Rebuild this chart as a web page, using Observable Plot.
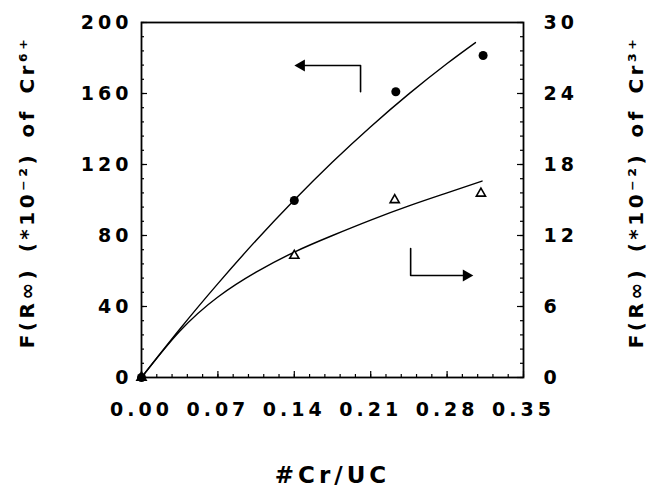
<!DOCTYPE html>
<html><head><meta charset="utf-8">
<script src="https://cdn.jsdelivr.net/npm/d3@7"></script>
<script src="https://cdn.jsdelivr.net/npm/@observablehq/plot@0.6"></script>
<style>
html,body{margin:0;padding:0;background:#fff;}
#chart svg text{font-family:"DejaVu Sans",sans-serif;font-weight:bold;letter-spacing:4px;}
#chart svg text[transform*="rotate"]{letter-spacing:3.5px;word-spacing:4px;}
</style></head><body><div id="chart"></div>
<script>
// tick labels
const xTicks = [0, 0.07, 0.14, 0.21, 0.28, 0.35];
const leftTicks = [0, 40, 80, 120, 160, 200];
const rightTicks = [0, 6, 12, 18, 24, 30];
// measured points
const cr6X = [0, 0.14, 0.233, 0.313];
const cr6Y = [0, 99.7, 161, 181.4];
const cr3X = [0, 0.14, 0.232, 0.311];
const cr3Y = [0, 10.3, 15.0, 15.55];
// fitted curves
const fit6X = [0, 0.035, 0.07, 0.105, 0.14, 0.175, 0.21, 0.245, 0.28, 0.306];
const fit6Y = [0, 27.2, 52.9, 77.2, 100, 121.4, 141.3, 159.8, 176.9, 188.7];
const fit3X = [0, 0.035, 0.07, 0.105, 0.14, 0.175, 0.21, 0.245, 0.28, 0.312];
const fit3Y = [0, 3.9, 6.8, 8.9, 10.6, 12.0, 13.3, 14.5, 15.6, 16.6];
// annotation arrows (data units, left axis)
const arrowLeftX = [0.2007, 0.2007, 0.146];
const arrowLeftY = [161, 175.8, 175.8];
const arrowLeftHead = [0.1465, 175.8];
const arrowRightX = [0.2466, 0.2466, 0.298];
const arrowRightY = [72.7, 57.5, 57.5];
const arrowRightHead = [0.2976, 57.5];
const leftTitle = "F(R\u221E) (*10\u207B\u00B2) of Cr\u2076\u207A";
const rightTitle = "F(R\u221E) (*10\u207B\u00B2) of Cr\u00B3\u207A";
const xTitle = "#Cr/UC";

const k = 200 / 30; // right axis -> left axis
const zip = (xs, ys) => xs.map((x, i) => ({x, y: ys[i]}));
const cr6 = zip(cr6X, cr6Y);
const cr3 = zip(cr3X, cr3Y.map(v => v * k));
const fit6 = zip(fit6X, fit6Y);
const fit3 = zip(fit3X, fit3Y.map(v => v * k));
const arrL = zip(arrowLeftX, arrowLeftY);
const arrR = zip(arrowRightX, arrowRightY);

const W = 651, H = 495, mL = 141, mR = 128, mT = 22, mB = 118;
const fw = W - mL - mR, fh = H - mT - mB;
const minorX = d3.range(0, 0.3501, 0.014);
const minorY = d3.range(0, 200.01, 8);

const chart = Plot.plot({
  width: W, height: H,
  marginLeft: mL, marginRight: mR, marginTop: mT, marginBottom: mB,
  style: {fontFamily: "DejaVu Sans", fontWeight: "bold", background: "white", color: "black"},
  x: {domain: [0, 0.35]},
  y: {domain: [0, 200]},
  marks: [
    Plot.tickX(minorX, {x: d => d, insetTop: fh - 3, strokeWidth: 1.2}),
    Plot.tickX(xTicks, {x: d => d, insetTop: fh - 6, strokeWidth: 1.2}),
    Plot.tickY(minorY, {y: d => d, insetRight: fw - 3, strokeWidth: 1.2}),
    Plot.tickY(leftTicks, {y: d => d, insetRight: fw - 6, strokeWidth: 1.2}),
    Plot.tickY(minorY, {y: d => d, insetLeft: fw - 3, strokeWidth: 1.2}),
    Plot.tickY(leftTicks, {y: d => d, insetLeft: fw - 6, strokeWidth: 1.2}),
    Plot.frame({stroke: "black", strokeWidth: 1.8}),
    Plot.axisX(xTicks, {tickSize: 0, tickPadding: 25, tickFormat: d3.format(".2f"), fontSize: 19, label: null}),
    Plot.axisY(leftTicks, {anchor: "left", tickSize: 0, tickPadding: 9, fontSize: 19, label: null}),
    Plot.axisY(rightTicks.map(v => v * k), {anchor: "right", tickSize: 0, tickPadding: 20, fontSize: 19, label: null, tickFormat: d => String(Math.round(d / k))}),
    Plot.line(fit6, {x: "x", y: "y", curve: "natural", stroke: "black", strokeWidth: 1.4}),
    Plot.line(fit3, {x: "x", y: "y", curve: "natural", stroke: "black", strokeWidth: 1.4}),
    Plot.dot(cr3, {x: "x", y: "y", symbol: "triangle", r: 3.4, stroke: "black", fill: "white", strokeWidth: 1.6}),
    Plot.dot(cr6, {x: "x", y: "y", r: 4.5, fill: "black"}),
    Plot.line(arrL, {x: "x", y: "y", stroke: "black", strokeWidth: 1.6}),
    Plot.line(arrR, {x: "x", y: "y", stroke: "black", strokeWidth: 1.6}),
    Plot.dot([arrowLeftHead], {x: d => d[0], y: d => d[1], symbol: "triangle", r: 4.5, fill: "black", rotate: -90}),
    Plot.dot([arrowRightHead], {x: d => d[0], y: d => d[1], symbol: "triangle", r: 4.5, fill: "black", rotate: 90}),
    Plot.text([xTitle], {frameAnchor: "bottom", dy: 105, fontSize: 23, text: d => d}),
    Plot.text([leftTitle], {frameAnchor: "left", textAnchor: "middle", dx: -114, dy: -8, rotate: -90, fontSize: 20, text: d => d}),
    Plot.text([rightTitle], {frameAnchor: "right", textAnchor: "middle", dx: 113, dy: -8, rotate: -90, fontSize: 20, text: d => d})
  ]
});
document.getElementById("chart").appendChild(chart);
</script></body></html>
